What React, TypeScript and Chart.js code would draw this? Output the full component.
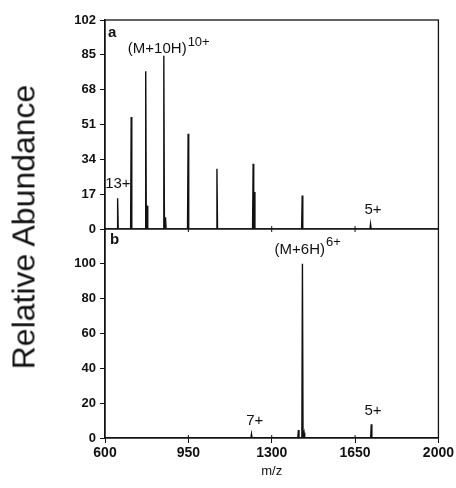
import React, { useEffect, useRef } from 'react';
import { Chart, registerables } from 'chart.js';

Chart.register(...registerables);

// ---- data ----
const X_MIN = 600;
const X_MAX = 2000;
const xTickValues = [600, 950, 1300, 1650, 2000];
const topTickValues = [0, 17, 34, 51, 68, 85, 102];
const bottomTickValues = [0, 20, 40, 60, 80, 100];
const TOP_MAX = 102;
const BOTTOM_MAX = 120;

// panel a: charge-state envelope (m/z, relative abundance)
const topMz = [653, 710, 771, 777, 847, 854, 949, 1070, 1222, 1227, 1428, 1715];
const topAbund = [15, 54.6, 77, 11.4, 84.5, 5.7, 46.5, 29.4, 31.8, 18, 16.3, 2.4];

// panel b
const bottomMz = [1215, 1412, 1429, 1436, 1718];
const bottomAbund = [2.3, 4.6, 100, 3, 7.9];

// annotations (text, m/z, abundance)
const topLabelText = ['13+', '5+'];
const topLabelMz = [654, 1725];
const topLabelY = [22, 9.5];
const bottomLabelText = ['7+', '5+'];
const bottomLabelMz = [1229, 1725];
const bottomLabelY = [9.8, 15.5];

const PEAK_HALF_WIDTH = 2.5;
const FONT = "'Liberation Sans', Arial, Helvetica, sans-serif";
const INK = '#111';

function spectrum(mz: number[], ab: number[]) {
  const pts: { x: number; y: number }[] = [{ x: X_MIN, y: 0 }];
  mz.forEach((m, i) => {
    pts.push({ x: m - PEAK_HALF_WIDTH, y: 0 }, { x: m, y: ab[i] }, { x: m + PEAK_HALF_WIDTH, y: 0 });
  });
  pts.push({ x: X_MAX, y: 0 });
  return pts;
}

const framePlugin = {
  id: 'frame',
  afterDraw(chart: any) {
    const ctx = chart.ctx;
    const x = chart.scales.x;
    const yT = chart.scales.yTop;
    const yB = chart.scales.yBottom;
    const { left, right } = chart.chartArea;
    ctx.save();
    ctx.strokeStyle = INK;
    ctx.lineWidth = 1.3;
    ctx.strokeRect(left, yT.top, right - left, yB.bottom - yT.top);
    const mid = yT.bottom;
    ctx.beginPath();
    ctx.moveTo(left, mid);
    ctx.lineTo(right, mid);
    ctx.stroke();
    // inner tick marks at the panel boundary
    ctx.lineWidth = 1;
    xTickValues.slice(1, -1).forEach((v) => {
      const px = x.getPixelForValue(v);
      ctx.beginPath();
      ctx.moveTo(px, mid - 3);
      ctx.lineTo(px, mid + 3);
      ctx.moveTo(px, yB.bottom - 3);
      ctx.lineTo(px, yB.bottom);
      ctx.stroke();
    });

    ctx.fillStyle = INK;
    ctx.textBaseline = 'middle';
    // panel letters
    ctx.font = `bold 15px ${FONT}`;
    ctx.textAlign = 'left';
    ctx.fillText('a', left + 3, yT.top + 13);
    ctx.fillText('b', left + 5, yB.top + 11);

    const drawSup = (main: string, sup: string, mz: number, yv: number, ys: any) => {
      const px = x.getPixelForValue(mz);
      const py = ys.getPixelForValue(yv);
      ctx.textAlign = 'left';
      ctx.font = `15px ${FONT}`;
      ctx.fillText(main, px, py);
      const w = ctx.measureText(main).width;
      ctx.font = `13px ${FONT}`;
      ctx.fillText(sup, px + w + 1, py - 7);
    };
    drawSup('(M+10H)', '10+', 696, 87.8, yT);
    drawSup('(M+6H)', '6+', 1312, 108.2, yB);

    ctx.textAlign = 'center';
    ctx.font = `15px ${FONT}`;
    topLabelText.forEach((t, i) => {
      ctx.fillText(t, x.getPixelForValue(topLabelMz[i]), yT.getPixelForValue(topLabelY[i]));
    });
    bottomLabelText.forEach((t, i) => {
      ctx.fillText(t, x.getPixelForValue(bottomLabelMz[i]), yB.getPixelForValue(bottomLabelY[i]));
    });
    ctx.restore();
  },
};

export default function App() {
  const canvasRef = useRef<HTMLCanvasElement | null>(null);

  useEffect(() => {
    const canvas = canvasRef.current;
    if (!canvas) return;
    const tickFont = { family: FONT, size: 13, weight: 'bold' as const };
    const yCommon = {
      type: 'linear' as const,
      position: 'left' as const,
      stack: 'abund',
      stackWeight: 1,
      min: 0,
      grid: { drawOnChartArea: false, drawTicks: true, tickLength: 5, color: INK, lineWidth: 1 },
      border: { display: true, color: INK, width: 1.3 },
      ticks: { font: tickFont, color: INK, padding: 4, autoSkip: false, callback: (v: any) => String(v) },
      afterFit: (s: any) => {
        s.width = 105;
      },
    };
    const chart = new Chart(canvas, {
      type: 'line',
      data: {
        datasets: [
          {
            data: spectrum(topMz, topAbund),
            yAxisID: 'yTop',
            xAxisID: 'x',
            borderColor: INK,
            borderWidth: 1.4,
            pointRadius: 0,
            fill: false,
            tension: 0,
          },
          {
            data: spectrum(bottomMz, bottomAbund),
            yAxisID: 'yBottom',
            xAxisID: 'x',
            borderColor: INK,
            borderWidth: 1.4,
            pointRadius: 0,
            fill: false,
            tension: 0,
          },
        ],
      },
      options: {
        responsive: false,
        animation: false,
        layout: { padding: { top: 20, right: 15, left: 0, bottom: 0 } },
        plugins: { legend: { display: false }, tooltip: { enabled: false } },
        scales: {
          x: {
            type: 'linear',
            min: X_MIN,
            max: X_MAX,
            afterBuildTicks: (s: any) => {
              s.ticks = xTickValues.map((v) => ({ value: v }));
            },
            afterFit: (s: any) => {
              s.height = 50;
            },
            grid: { drawOnChartArea: false, drawTicks: true, tickLength: 5, color: INK },
            border: { display: true, color: INK, width: 1.3 },
            ticks: {
              font: { family: FONT, size: 14, weight: 'bold' },
              color: INK,
              padding: 2,
              maxRotation: 0,
              autoSkip: false,
              callback: (v: any) => String(v),
            },
            title: { display: true, text: 'm/z', color: INK, font: { family: FONT, size: 13 }, padding: { top: 0, bottom: 9 } },
          },
          // first scale in a stack is placed at the bottom
          yBottom: {
            ...yCommon,
            max: BOTTOM_MAX,
            afterBuildTicks: (s: any) => {
              s.ticks = bottomTickValues.map((v) => ({ value: v }));
            },
          },
          yTop: {
            ...yCommon,
            max: TOP_MAX,
            afterBuildTicks: (s: any) => {
              s.ticks = topTickValues.map((v) => ({ value: v }));
            },
          },
        } as any,
      },
      plugins: [framePlugin],
    });
    return () => chart.destroy();
  }, []);

  return (
    <div style={{ position: 'absolute', left: 0, top: 0, width: 456, height: 488, background: '#fff' }}>
      <canvas ref={canvasRef} width={456} height={488} style={{ width: 456, height: 488, display: 'block' }} />
      <div
        style={{
          position: 'absolute',
          left: 24,
          top: 227,
          transform: 'translate(-50%, -50%) rotate(-90deg)',
          font: `32px ${FONT}`,
          color: INK,
          whiteSpace: 'nowrap',
        }}
      >
        Relative Abundance
      </div>
    </div>
  );
}
